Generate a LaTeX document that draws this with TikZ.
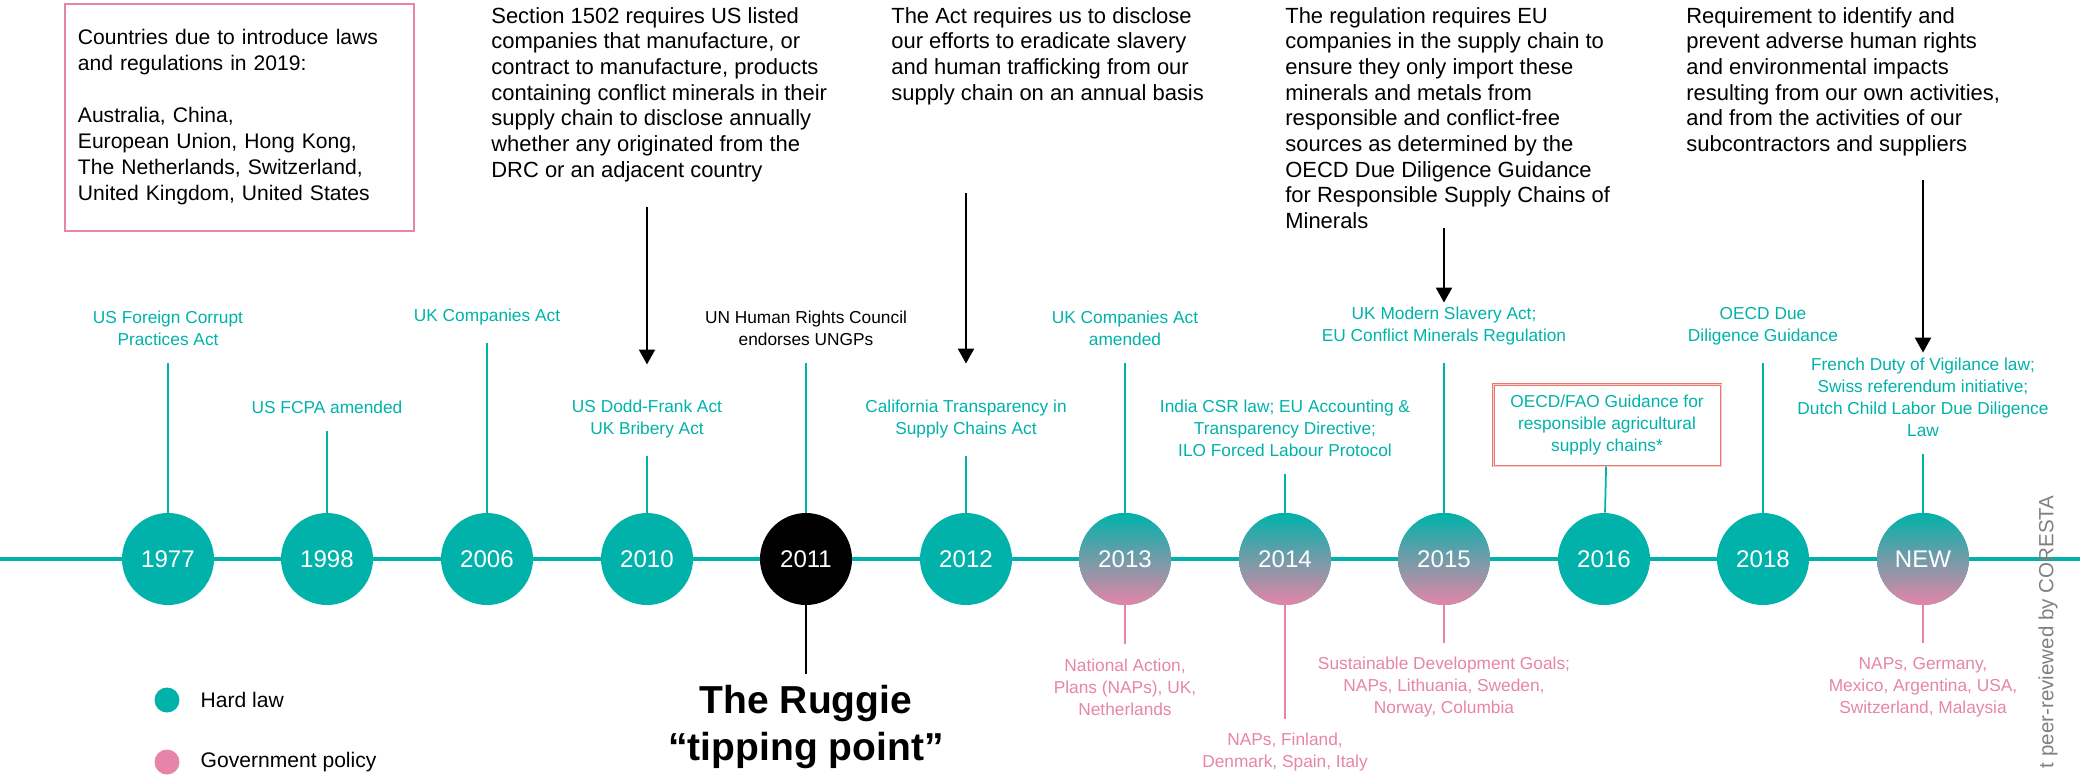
\documentclass[tikz,border=0pt]{standalone}
\usepackage{fontspec}
\setmainfont{Liberation Sans}
\usepackage{xcolor}
\usepackage{tikz}
\usetikzlibrary{arrows.meta, positioning}
\definecolor{lawteal}{RGB}{0, 178, 169}
\definecolor{policypink}{RGB}{230, 133, 168}
\definecolor{faored}{RGB}{235, 120, 110}
\definecolor{notegrey}{RGB}{128, 128, 128}
\tikzstyle{year} = [circle, fill=lawteal, minimum size=1.84cm, inner sep=0pt, text=white, font=\fontsize{13.7}{16}\selectfont]
\tikzstyle{mixed} = [year, top color=lawteal, bottom color=policypink]
\tikzstyle{act} = [text=lawteal, align=center, inner sep=0pt, font=\fontsize{9.85}{12.5}\selectfont]
\tikzstyle{plan} = [act, text=policypink]
\tikzstyle{req} = [align=left, inner sep=0pt, anchor=north west, font=\fontsize{12.5}{14.6}\selectfont]
\tikzstyle{stem} = [lawteal, line width=1pt, shorten <=10pt]
\tikzstyle{pstem} = [policypink, line width=1pt, shorten >=8pt]
\tikzstyle{arrow} = [-{Triangle[length=8.5pt, width=9pt]}, line width=1.5pt]
\tikzstyle{legend} = [inner sep=0pt, font=\fontsize{12}{14}\selectfont]

\begin{document}
\begin{tikzpicture}[x=0.02cm, y=-0.02cm]
    \useasboundingbox (0,0) rectangle (2080,779);

    % Countries box
    \node[draw=policypink, line width=1.1pt, anchor=north west, minimum width=6.98cm, minimum height=4.54cm, text width=6.46cm, inner xsep=0.26cm, align=left, font=\fontsize{12}{14.8}\selectfont] (countries) at (64,3) {
        Countries due to introduce laws\\
        and regulations in 2019:\\[14.8pt]
        Australia, China,\\
        European Union, Hong Kong,\\
        The Netherlands, Switzerland,\\
        United Kingdom, United States
    };

    % Requirements
    \node[req] (dodd) at (491,7) {Section 1502 requires US listed\\companies that manufacture, or\\contract to manufacture, products\\containing conflict minerals in their\\supply chain to disclose annually\\whether any originated from the\\DRC or an adjacent country};
    \node[req] (slavery) at (891,7) {The Act requires us to disclose\\our efforts to eradicate slavery\\and human trafficking from our\\supply chain on an annual basis};
    \node[req] (minerals) at (1285,7) {The regulation requires EU\\companies in the supply chain to\\ensure they only import these\\minerals and metals from\\responsible and conflict-free\\sources as determined by the\\OECD Due Diligence Guidance\\for Responsible Supply Chains of\\Minerals};
    \node[req] (vigilance) at (1686,7) {Requirement to identify and\\prevent adverse human rights\\and environmental impacts\\resulting from our own activities,\\and from the activities of our\\subcontractors and suppliers};

    % Timeline
    \coordinate (tlstart) at (0,559);
    \coordinate (tlend) at (2080,559);
    \draw[lawteal, line width=2.8pt] (tlstart) -- (tlend);

    % Years
    \node[year] (y1977) at (168,559) {1977};
    \node[year] (y1998) at (327,559) {1998};
    \node[year] (y2006) at (487,559) {2006};
    \node[year] (y2010) at (647,559) {2010};
    \node[year, fill=black] (y2011) at (806,559) {2011};
    \node[year] (y2012) at (966,559) {2012};
    \node[mixed] (y2013) at (1125,559) {2013};
    \node[mixed] (y2014) at (1285,559) {2014};
    \node[mixed] (y2015) at (1444,559) {2015};
    \node[year] (y2016) at (1604,559) {2016};
    \node[year] (y2018) at (1763,559) {2018};
    \node[mixed] (ynew) at (1923,559) {NEW};

    % Hard law above
    \node[act] (l1977) at (168,328) {US Foreign Corrupt\\Practices Act};
    \node[act] (l1998) at (327,407) {US FCPA amended};
    \node[act] (l2006) at (487,317) {UK Companies Act};
    \node[act] (l2010) at (647,419) {US Dodd-Frank Act\\UK Bribery Act};
    \node[act, text=black] (l2011) at (806,328) {UN Human Rights Council\\endorses UNGPs};
    \node[act] (l2012) at (966,419) {California Transparency in\\Supply Chains Act};
    \node[act] (l2013) at (1125,328) {UK Companies Act\\amended};
    \node[act] (l2014) at (1285,428) {India CSR law; EU Accounting \&\\Transparency Directive;\\ILO Forced Labour Protocol};
    \node[act] (l2015) at (1444,326) {UK Modern Slavery Act;\\EU Conflict Minerals Regulation};
    \node[act, draw=faored, line width=0.6pt, double=faored!35, double distance=0.5pt, minimum width=4.56cm, minimum height=1.64cm] (l2016) at (1607,425) {OECD/FAO Guidance for\\responsible agricultural\\supply chains*};
    \node[act] (l2018) at (1763,326) {OECD Due\\Diligence Guidance};
    \node[act] (lnew) at (1923,397) {French Duty of Vigilance law;\\Swiss referendum initiative;\\Dutch Child Labor Due Diligence\\Law};

    \draw[stem] (l1977) -- (y1977);
    \draw[stem] (l1998) -- (y1998);
    \draw[stem] (l2006) -- (y2006);
    \draw[stem] (l2010) -- (y2010);
    \draw[stem] (l2011) -- (y2011);
    \draw[stem] (l2012) -- (y2012);
    \draw[stem] (l2013) -- (y2013);
    \draw[stem] (l2014) -- (y2014);
    \draw[stem] (l2015) -- (y2015);
    \draw[stem, shorten <=0pt] (l2016) -- (y2016);
    \draw[stem] (l2018) -- (y2018);
    \draw[stem] (lnew) -- (ynew);

    % Government policy below
    \node[plan] (p2013) at (1125,687) {National Action,\\Plans (NAPs), UK,\\Netherlands};
    \node[plan] (p2014) at (1285,752) {NAPs, Finland,\\Denmark, Spain, Italy};
    \node[plan] (p2015) at (1444,687) {Sustainable Development Goals;\\NAPs, Lithuania, Sweden,\\Norway, Columbia};
    \node[plan] (pnew) at (1923,687) {NAPs, Germany,\\Mexico, Argentina, USA,\\Switzerland, Malaysia};

    \draw[pstem] (y2013) -- (p2013);
    \draw[pstem] (y2014) -- (p2014);
    \draw[pstem] (y2015) -- (p2015);
    \draw[pstem] (ynew) -- (pnew);

    % Ruggie
    \node[align=center, inner sep=0pt, font=\fontsize{22.2}{26.7}\selectfont\bfseries] (ruggie) at (806,727) {The Ruggie\\“tipping point”};
    \draw[line width=1pt, shorten >=6pt] (y2011) -- (ruggie);

    % Arrows
    \coordinate (a2010) at (647,207);
    \coordinate (a2012) at (966,193);
    \coordinate (a2015) at (1444,228);
    \coordinate (anew) at (1923,180);
    \draw[arrow, shorten >=20pt] (a2010) -- (l2010);
    \draw[arrow, shorten >=20.5pt] (a2012) -- (l2012);
    \draw[arrow, shorten >=2.3pt] (a2015) -- (l2015);
    \draw[arrow, shorten >=2.7pt] (anew) -- (lnew);

    % Legend
    \node[circle, fill=lawteal, minimum size=0.5cm, inner sep=0pt] (hardlaw) at (167,700) {};
    \node[legend, right=0.41cm of hardlaw] (hardlawtext) {Hard law};
    \node[circle, fill=policypink, minimum size=0.5cm, inner sep=0pt] (policy) at (167,762) {};
    \node[legend, right=0.41cm of policy] (policytext) {Government policy};

    % Note
    \node[rotate=90, anchor=east, inner sep=0pt, text=notegrey, font=\fontsize{11.7}{14}\selectfont] (coresta) at (2048,495) {t peer-reviewed by CORESTA};
\end{tikzpicture}
\end{document}
